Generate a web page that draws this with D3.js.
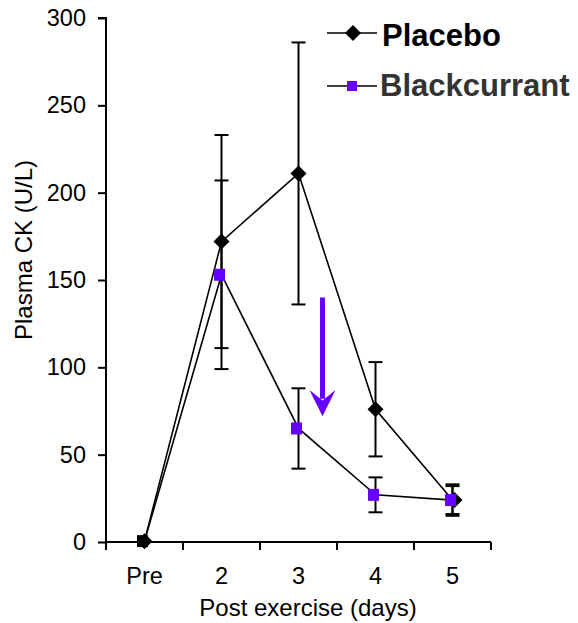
<!DOCTYPE html>
<html>
<head>
  <meta charset="utf-8" />
  <title>Plasma CK</title>
  <script src="https://cdn.jsdelivr.net/npm/d3@7"></script>
  <style>
    body { margin: 0; background: #fff; }
    text { font-family: "Liberation Sans", Arial, sans-serif; }
  </style>
</head>
<body>
<div id="vis"></div>
<script>
  var w = 578;
  var h = 623;

  // data
  var days = ["Pre", "2", "3", "4", "5"];
  var placebo = [0.5, 172, 211, 76, 24];
  var placeboErr = [0, 61, 75, 27, 9];
  var blackcurrant = [0.5, 153, 65, 27, 24];
  var blackcurrantErr = [0, 54, 23, 10, 8];
  var yTicks = [0, 50, 100, 150, 200, 250, 300];

  var purple = "#6600ff";

  var svg = d3.select("#vis").append("svg")
    .attr("width", w)
    .attr("height", h);

  var x = d3.scaleBand().domain(days).range([106, 491]);
  var y = d3.scaleLinear().domain([0, 300]).range([542, 18]);
  var edge = d3.scaleLinear().domain([0, days.length]).range([106, 491]);

  function cx(d) { return x(d) + x.bandwidth() / 2; }

  // y axis
  var yAxis = svg.append("g")
    .attr("transform", "translate(106,0)")
    .call(d3.axisLeft(y).tickValues(yTicks).tickSize(8).tickPadding(12));
  yAxis.select(".domain").attr("stroke-width", 2).attr("d", "M-8,18H0V542");
  yAxis.selectAll(".tick line").attr("stroke-width", 2);
  yAxis.selectAll("text").attr("font-size", 23.5).attr("fill", "#000")
    .style("font-family", "Liberation Sans, Arial, sans-serif");

  // x axis: labels centred, ticks on band edges
  var xAxis = svg.append("g")
    .attr("transform", "translate(0,542)")
    .call(d3.axisBottom(x).tickSize(0).tickPadding(25));
  xAxis.select(".domain").attr("stroke-width", 2).attr("d", "M106,0H491");
  xAxis.selectAll("text").attr("font-size", 23.5).attr("fill", "#000")
    .style("font-family", "Liberation Sans, Arial, sans-serif");
  xAxis.selectAll(".edge")
    .data(d3.range(days.length + 1))
    .enter().append("line")
    .attr("x1", function(i) { return edge(i); })
    .attr("x2", function(i) { return edge(i); })
    .attr("y1", 0).attr("y2", 8)
    .attr("stroke", "#000").attr("stroke-width", 2);

  // axis titles
  svg.append("text")
    .attr("transform", "translate(32,250) rotate(-90)")
    .attr("text-anchor", "middle")
    .attr("font-size", 24)
    .text("Plasma CK (U/L)");

  svg.append("text")
    .attr("x", 308).attr("y", 616)
    .attr("text-anchor", "middle")
    .attr("font-size", 24)
    .text("Post exercise (days)");

  var line = d3.line()
    .x(function(d, i) { return cx(days[i]); })
    .y(function(d) { return y(d); });

  function errorBars(vals, errs, dx) {
    var g = svg.append("g").attr("stroke", "#000").attr("stroke-width", 2);
    vals.forEach(function(v, i) {
      if (!errs[i]) return;
      var px = cx(days[i]) + dx;
      g.append("line").attr("x1", px).attr("x2", px)
        .attr("y1", y(v + errs[i])).attr("y2", y(v - errs[i]));
      [v + errs[i], v - errs[i]].forEach(function(e) {
        g.append("line").attr("x1", px - 7).attr("x2", px + 7)
          .attr("y1", y(e)).attr("y2", y(e));
      });
    });
  }

  errorBars(placebo, placeboErr, 0);
  errorBars(blackcurrant, blackcurrantErr, 0);

  svg.append("path").datum(placebo)
    .attr("d", line).attr("fill", "none")
    .attr("stroke", "#000").attr("stroke-width", 1.6);
  svg.append("path").datum(blackcurrant)
    .attr("d", line).attr("fill", "none")
    .attr("stroke", "#000").attr("stroke-width", 1.6);

  var diamond = "M0,-8L8,0L0,8L-8,0Z";

  svg.selectAll(".pl").data(placebo).enter().append("path")
    .attr("d", diamond)
    .attr("transform", function(d, i) { return "translate(" + (cx(days[i]) + (i == 4 ? 2 : 0)) + "," + y(d) + ")"; })
    .attr("fill", "#000");

  svg.selectAll(".bc").data(blackcurrant).enter().append("rect")
    .attr("x", function(d, i) { return cx(days[i]) - 2 - 5.5; })
    .attr("y", function(d) { return y(d) - 6; })
    .attr("width", 11).attr("height", 12)
    .attr("fill", function(d, i) { return i == 0 ? "#000" : purple; });

  // arrow between day 3 and 4
  var ax = cx("3") + 24;
  svg.append("line")
    .attr("x1", ax).attr("x2", ax)
    .attr("y1", y(140)).attr("y2", y(82))
    .attr("stroke", purple).attr("stroke-width", 5);
  svg.append("path")
    .attr("d", "M" + ax + "," + y(72) + "L" + (ax - 13) + "," + y(87) +
               "L" + ax + "," + y(81) + "L" + (ax + 13) + "," + y(87) + "Z")
    .attr("fill", purple);

  // legend
  var lg = svg.append("g");
  lg.append("line").attr("x1", 327).attr("x2", 377).attr("y1", 33).attr("y2", 33)
    .attr("stroke", "#000").attr("stroke-width", 1.6);
  lg.append("path").attr("d", diamond).attr("transform", "translate(353,33)");
  lg.append("text").attr("x", 382).attr("y", 46)
    .attr("font-size", 31).attr("font-weight", "bold").attr("fill", "#000")
    .text("Placebo");

  lg.append("line").attr("x1", 327).attr("x2", 377).attr("y1", 86).attr("y2", 86)
    .attr("stroke", "#000").attr("stroke-width", 1.6);
  lg.append("rect").attr("x", 347).attr("y", 81).attr("width", 10).attr("height", 10)
    .attr("fill", purple);
  lg.append("text").attr("x", 380).attr("y", 96)
    .attr("font-size", 31).attr("font-weight", "bold").attr("fill", "#333")
    .text("Blackcurrant");
</script>
</body>
</html>
